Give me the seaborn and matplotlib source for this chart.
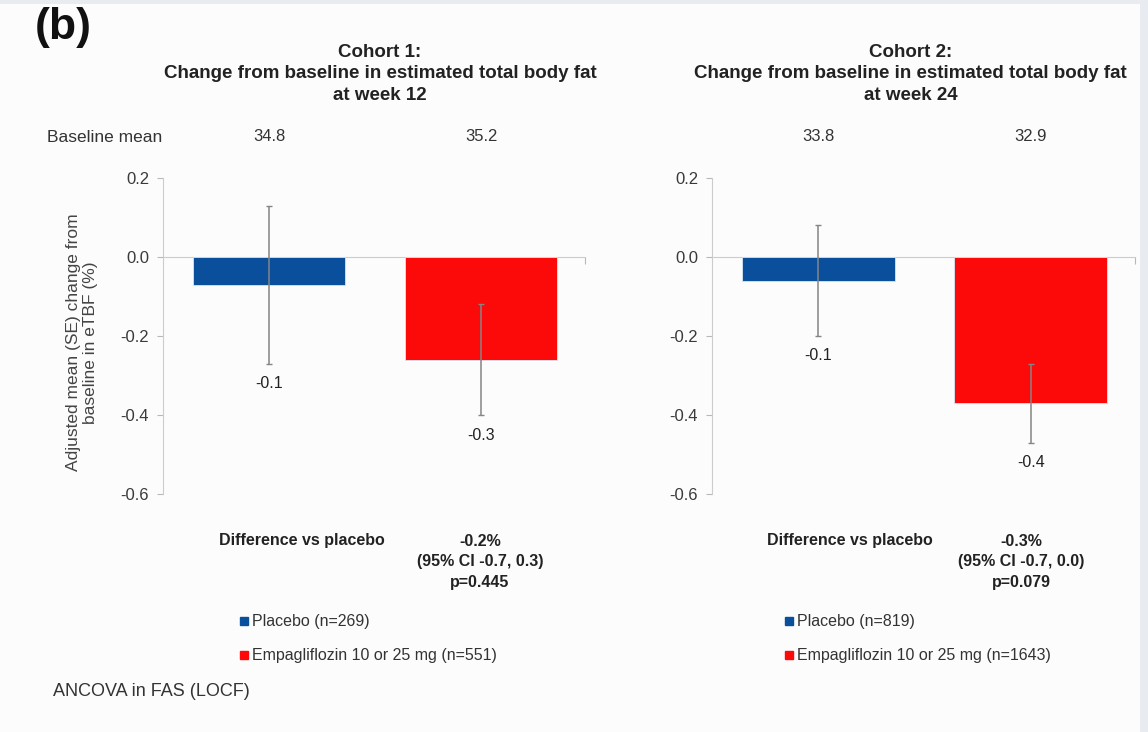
import matplotlib
matplotlib.use("Agg")
import matplotlib.pyplot as plt
import seaborn as sns
import pandas as pd
from matplotlib.lines import Line2D
from matplotlib.patches import Rectangle

# Data
groups = ["Placebo", "Empagliflozin 10 or 25 mg"]
cohort_titles = [
    "Cohort 1:\nChange from baseline in estimated total body fat\nat week 12",
    "Cohort 2:\nChange from baseline in estimated total body fat\nat week 24",
]
baseline_means = [["34.8", "35.2"], ["33.8", "32.9"]]
adj_means = [[-0.07, -0.26], [-0.06, -0.37]]
se_values = [[0.20, 0.14], [0.14, 0.10]]
value_labels = [["-0.1", "-0.3"], ["-0.1", "-0.4"]]
n_counts = [[269, 551], [819, 1643]]
diff_text = [
    "-0.2%\n(95% CI -0.7, 0.3)\np=0.445",
    "-0.3%\n(95% CI -0.7, 0.0)\np=0.079",
]
yticks = [0.2, 0.0, -0.2, -0.4, -0.6]

colors = {"Placebo": "#0a4f9c", "Empagliflozin 10 or 25 mg": "#fc0a0a"}

sns.set_style("white")
plt.rcParams["font.family"] = ["Liberation Sans", "DejaVu Sans"]

fig = plt.figure(figsize=(11.48, 7.32), dpi=100)
fig.patch.set_facecolor("#e8ecf1")
fig.add_artist(Rectangle((0, 0), 1140 / 1148, 1 - 4 / 732, transform=fig.transFigure,
                         facecolor="#fcfcfc", edgecolor="none", zorder=0))

axes = [
    fig.add_axes([163 / 1148, 0.325, 422 / 1148, 0.432]),
    fig.add_axes([712 / 1148, 0.325, 423 / 1148, 0.432]),
]

# layout per panel (axes fractions)
title_x = [0.514, 0.47]
diff_label_x = [0.329, 0.327]
diff_value_x = [0.751, 0.731]
legend_x = [0.182, 0.173]

for i, ax in enumerate(axes):
    df = pd.DataFrame({"Group": groups, "Mean": adj_means[i], "SE": se_values[i]})
    sns.barplot(data=df, x="Group", y="Mean", hue="Group", palette=colors,
                saturation=1, width=0.72, errorbar=None, legend=False, ax=ax,
                zorder=2, edgecolor="#d6e6f5", linewidth=0.6)
    ax.errorbar(range(len(groups)), df["Mean"], yerr=df["SE"], fmt="none",
                ecolor="#858585", elinewidth=1.1, capsize=2.5, capthick=1.0, zorder=3)
    ax.set_facecolor("none")
    ax.set_xlim(-0.5, 1.49)
    ax.set_ylim(-0.6, 0.2)
    ax.set_yticks(yticks)
    ax.set_yticklabels([f"{t:.1f}" for t in yticks])
    ax.tick_params(axis="y", labelsize=12, colors="#b8b8b8", labelcolor="#3a3a3a",
                   length=4, width=0.8, left=True, pad=6)
    ax.set_xlabel("")
    ax.set_ylabel("")
    ax.set_xticks([1.49])
    ax.set_xticklabels([""])
    ax.tick_params(axis="x", length=5, width=0.8, colors="#b8b8b8", bottom=True)
    for side in ["top", "right"]:
        ax.spines[side].set_visible(False)
    ax.spines["left"].set_color("#cccccc")
    ax.spines["bottom"].set_position(("data", 0))
    ax.spines["bottom"].set_color("#cccccc")
    ax.spines["bottom"].set_zorder(1)

    # value labels under the error bars
    for j, m in enumerate(adj_means[i]):
        ax.annotate(value_labels[i][j], (j, m - se_values[i][j]), xytext=(0, -9),
                    textcoords="offset points", ha="center", va="top",
                    fontsize=11.5, color="#222222")

    # baseline means above bars
    tr = ax.get_xaxis_transform()
    for j, b in enumerate(baseline_means[i]):
        ax.text(j, 1.13, b, transform=tr, ha="center", va="center",
                fontsize=12, color="#333333")

    ax.text(title_x[i], 1.329, cohort_titles[i], transform=ax.transAxes, ha="center",
            va="center", fontsize=13.5, fontweight="bold", color="#222222",
            linespacing=1.35)

    # difference vs placebo
    ax.text(diff_label_x[i], -0.146, "Difference vs placebo", transform=ax.transAxes,
            ha="center", va="center", fontsize=11.5, fontweight="bold", color="#222222")
    ax.text(diff_value_x[i], -0.126, diff_text[i], transform=ax.transAxes,
            ha="center", va="top", fontsize=11.5, fontweight="bold", color="#222222",
            linespacing=1.46)

    handles = [Line2D([0], [0], marker="s", linestyle="none", markersize=5.5,
                      markerfacecolor=colors[g], markeredgecolor=colors[g])
               for g in groups]
    labels = [f"{g} (n={n})" for g, n in zip(groups, n_counts[i])]
    ax.legend(handles, labels, loc="upper left", bbox_to_anchor=(legend_x[i], -0.38),
              frameon=False, fontsize=11.5, handlelength=0.5, handletextpad=0.25,
              labelspacing=1.2, borderaxespad=0, borderpad=0, labelcolor="#333333")

axes[0].text(-0.192, 0.48, "Adjusted mean (SE) change from\nbaseline in eTBF (%)",
             transform=axes[0].transAxes, rotation=90, ha="center", va="center",
             fontsize=12.5, color="#444444", linespacing=1.2)

fig.text(47 / 1148, 1 - 137 / 732, "Baseline mean", ha="left", va="center",
         fontsize=12.5, color="#333333")
fig.text(35 / 1148, 1 - 28 / 732, "(b)", ha="left", va="center",
         fontsize=32, fontweight="bold", color="#111111")
fig.text(53 / 1148, 1 - 692 / 732, "ANCOVA in FAS (LOCF)", ha="left", va="center",
         fontsize=13, color="#333333")

fig.savefig("out.png", dpi=100, facecolor=fig.get_facecolor())
